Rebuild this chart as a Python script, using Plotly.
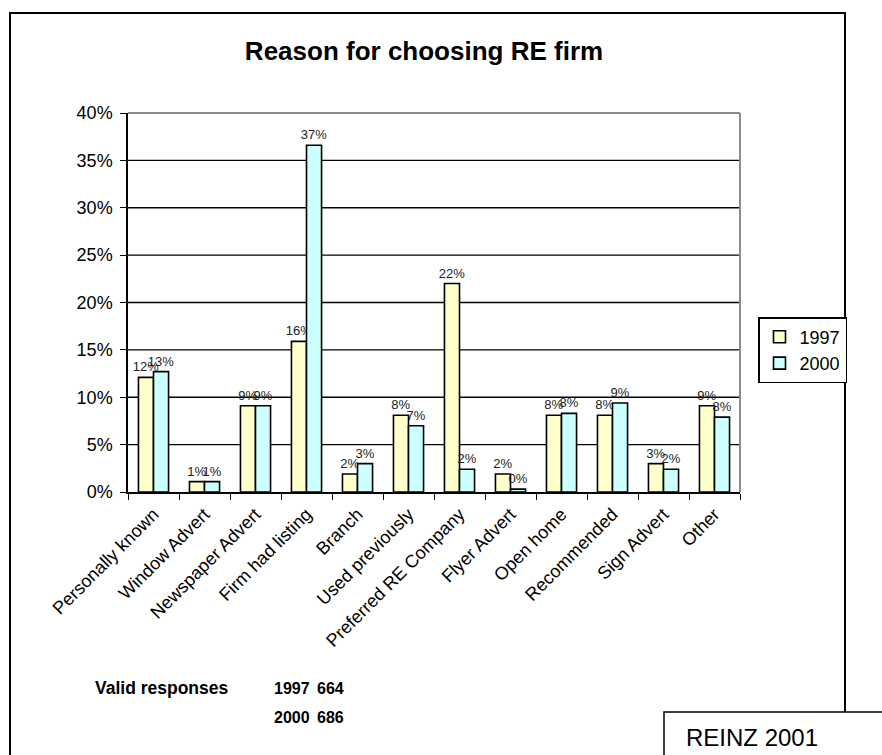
import plotly.graph_objects as go

categories = ["Personally known", "Window Advert", "Newspaper Advert", "Firm had listing",
              "Branch", "Used previously", "Preferred RE Company", "Flyer Advert",
              "Open home", "Recommended", "Sign Advert", "Other"]
values_1997 = [12.1, 1.1, 9.1, 15.9, 1.9, 8.1, 22.0, 1.9, 8.1, 8.1, 3.0, 9.1]
values_2000 = [12.7, 1.1, 9.1, 36.6, 3.0, 7.0, 2.4, 0.3, 8.3, 9.4, 2.4, 7.9]
y_ticks = [0, 5, 10, 15, 20, 25, 30, 35, 40]
responses = [("1997", "664"), ("2000", "686")]

W, H = 882, 755
L, R, T, B = 128, 142, 113, 263
pw, ph = W - L - R, H - T - B

def px(x):
    return (x - L) / pw

def py(y):
    return (H - B - y) / ph

fig = go.Figure()
lab_font = dict(family="Arial, Liberation Sans", size=13, color="#222222")
for name, vals, col in [("1997", values_1997, "#FFFFCC"), ("2000", values_2000, "#CCFFFF")]:
    fig.add_trace(go.Bar(
        x=categories, y=vals, name=name,
        marker=dict(color=col, line=dict(color="black", width=1.6)),
        text=[f"{round(v)}%" for v in vals],
        textposition="outside", constraintext="none", cliponaxis=False,
        textfont=lab_font, outsidetextfont=lab_font,
    ))

shapes = []
for t in y_ticks[1:-1]:
    shapes.append(dict(type="line", xref="paper", yref="y", x0=0, x1=1, y0=t, y1=t,
                       line=dict(color="black", width=1.4), layer="below"))
shapes.append(dict(type="line", xref="paper", yref="paper", x0=0, x1=1, y0=1, y1=1,
                   line=dict(color="#8c8c8c", width=2)))
shapes.append(dict(type="line", xref="paper", yref="paper", x0=1, x1=1, y0=0, y1=1,
                   line=dict(color="#8c8c8c", width=2)))
shapes.append(dict(type="rect", xref="paper", yref="paper",
                   x0=px(10), x1=px(845), y0=py(800), y1=py(13),
                   line=dict(color="black", width=2)))
shapes.append(dict(type="rect", xref="paper", yref="paper",
                   x0=px(664), x1=px(900), y0=py(800), y1=py(712),
                   line=dict(color="black", width=1.5), fillcolor="white"))

anns = []
font_b = dict(family="Arial, Liberation Sans", size=16, color="black")
anns.append(dict(text="<b>Valid responses</b>", x=px(93), y=py(688), xref="paper", yref="paper",
                 xanchor="left", yanchor="middle", showarrow=False,
                 font=dict(family="Arial, Liberation Sans", size=17.5, color="black")))
for i, (yr, n) in enumerate(responses):
    yy = py(688 + i * 29)
    anns.append(dict(text=f"<b>{yr}</b>", x=px(272), y=yy, xref="paper", yref="paper",
                     xanchor="left", yanchor="middle", showarrow=False, font=font_b))
    anns.append(dict(text=f"<b>{n}</b>", x=px(315), y=yy, xref="paper", yref="paper",
                     xanchor="left", yanchor="middle", showarrow=False, font=font_b))
anns.append(dict(text="REINZ 2001", x=px(684), y=py(737), xref="paper", yref="paper",
                 xanchor="left", yanchor="middle", showarrow=False,
                 font=dict(family="Arial, Liberation Sans", size=24, color="black")))

fig.update_layout(
    width=W, height=H,
    margin=dict(l=L, r=R, t=T, b=B),
    paper_bgcolor="white", plot_bgcolor="white",
    font=dict(family="Arial, Liberation Sans", color="black"),
    title=dict(text="<b>Reason for choosing RE firm</b>", x=px(424), xref="paper", xanchor="center",
               y=1 - 51 / H, yref="container", yanchor="middle",
               font=dict(size=26, color="black")),
    barmode="group", bargap=0.41, bargroupgap=0.0,
    showlegend=True,
    legend=dict(x=px(758), y=py(317), xanchor="left", yanchor="top",
                bordercolor="black", borderwidth=1.5, bgcolor="white",
                font=dict(size=18, color="black"), tracegroupgap=2),
    shapes=shapes, annotations=anns,
)
fig.update_xaxes(type="category", tickangle=-45, ticks="outside", tickson="boundaries",
                 ticklen=6, tickcolor="black", tickwidth=1.4, ticklabelstandoff=3,
                 showline=True, linecolor="black", linewidth=1.5, showgrid=False,
                 tickfont=dict(size=18, color="black"))
fig.update_yaxes(range=[0, 40], tickvals=y_ticks, ticktext=[f"{t}%" for t in y_ticks],
                 ticks="outside", ticklen=6, tickcolor="black", tickwidth=1.4, ticklabelstandoff=4,
                 showline=True, linecolor="black", linewidth=1.5, showgrid=False,
                 zeroline=False, tickfont=dict(size=18, color="black"))

fig.write_html("out.html")
